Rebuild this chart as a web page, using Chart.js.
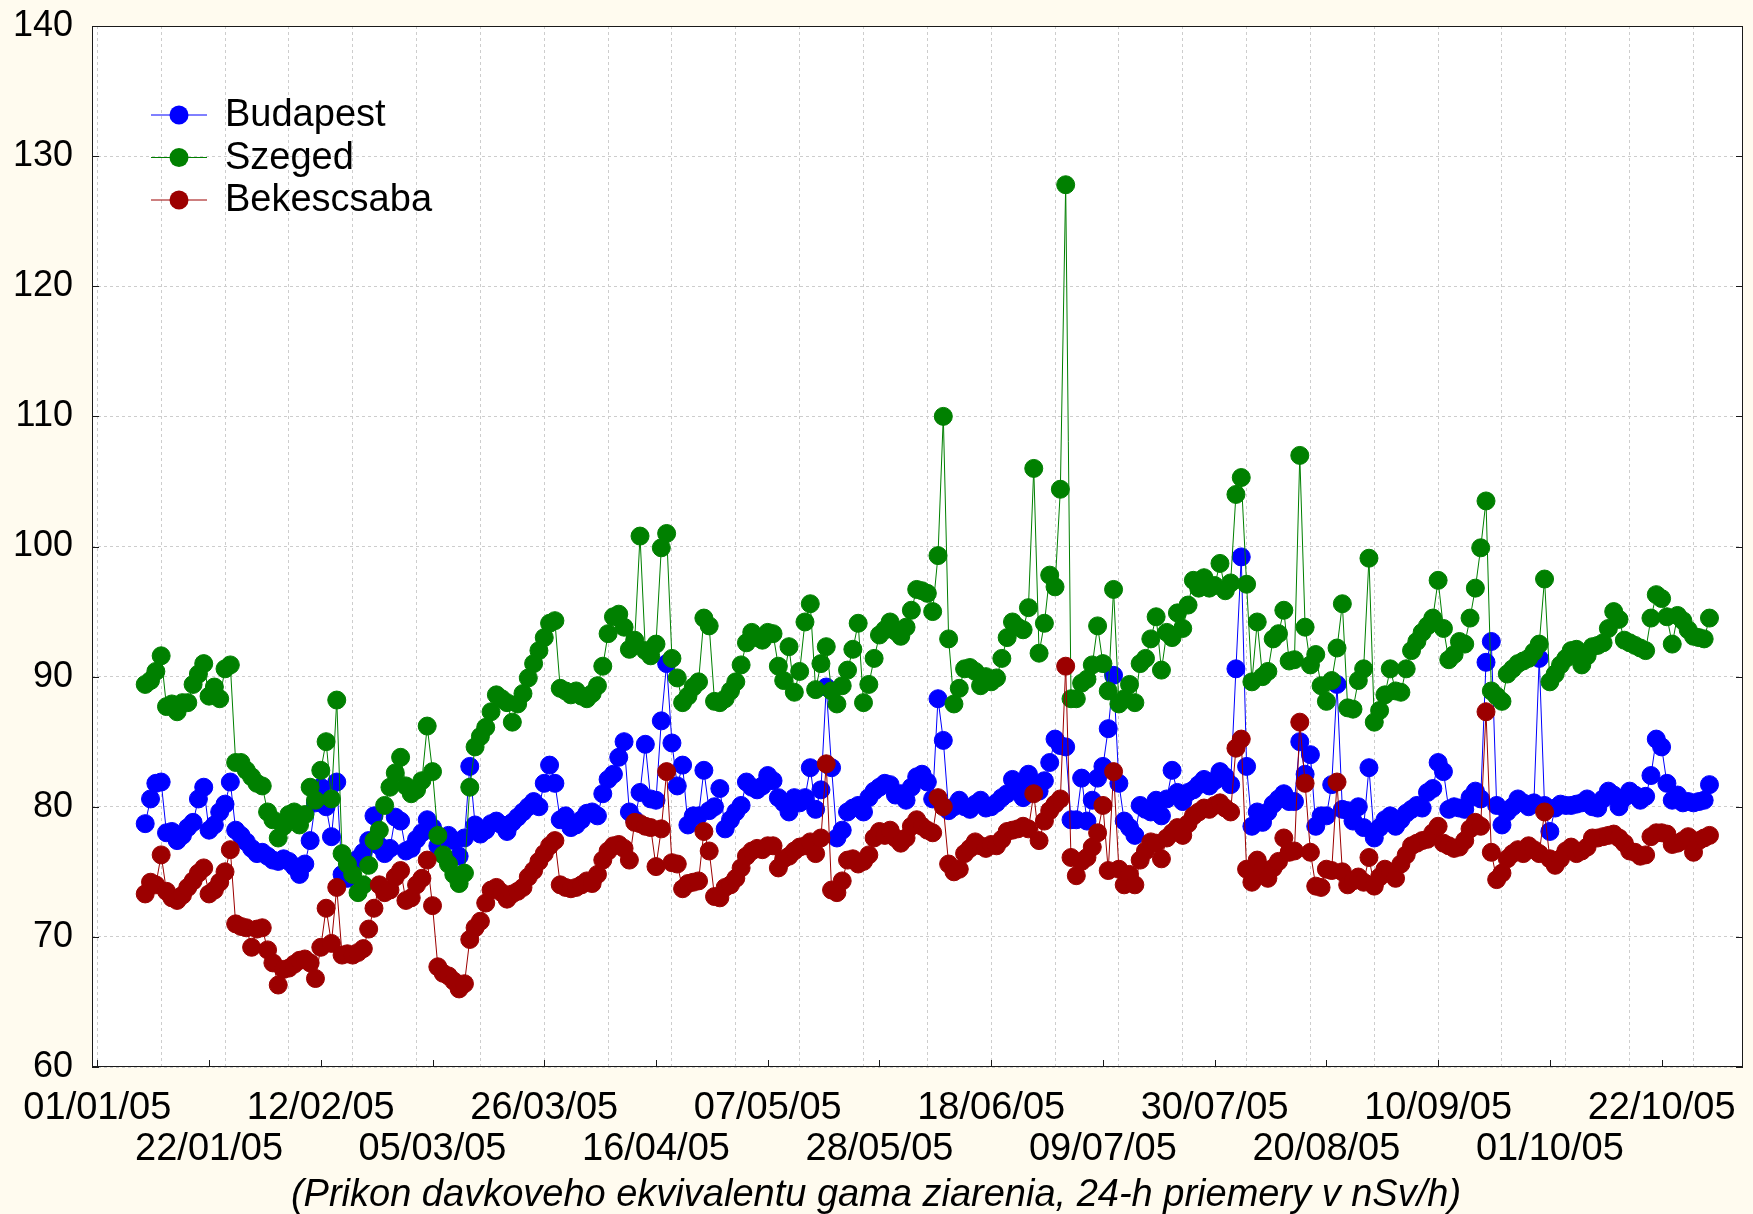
<!DOCTYPE html>
<html>
<head>
<meta charset="utf-8">
<title>Gamma dose rate 2005</title>
<script src="https://cdn.jsdelivr.net/npm/chart.js@4.4.1/dist/chart.umd.min.js"></script>
<style>
    html, body { margin: 0; padding: 0; background: #fffbef; }
    #wrap { width: 1753px; height: 1214px; }
</style>
</head>
<body>
<div id="wrap"><canvas id="doseChart" width="1753" height="1214"></canvas></div>
<script>
// day numbers are counted from 01/01/05 (day 0); first measured day:
var startDay = 9;

var budapest = [
    78.7, 80.6, 81.8, 81.9, 78.0, 78.1, 77.4, 77.8, 78.4, 78.8, 80.6, 81.5, 78.2, 78.6, 79.6, 80.2, 81.9, 78.2, 77.8, 77.3, 76.8, 76.4,
    76.5, 76.2, 75.9, 75.8, 76.0, 75.8, 75.4, 74.8, 75.6, 77.4, 80.3, 81.5, 80.0, 77.7, 81.9, 74.8, 74.5, 75.5, 76.0, 76.5, 77.4, 79.3, 77.0, 76.4, 76.8, 79.2,
    78.9, 76.6, 76.8, 77.5, 78.0, 79.0, 78.4, 77.0, 77.6, 77.8, 77.4, 76.2, 77.6, 83.1, 78.6, 77.9, 78.2, 78.7, 78.9, 78.6, 78.1, 78.8, 79.2, 79.6, 80.0, 80.4,
    80.0, 81.8, 83.2, 81.8, 79.0, 79.3, 78.4, 78.6, 79.0, 79.5, 79.6, 79.3, 81.0, 82.1, 82.5, 83.8, 85.0, 79.6, 79.0, 81.1, 84.8, 80.6, 80.5, 86.6, 91.0,
    84.9, 81.6, 83.2, 78.6, 79.3, 79.3, 82.8, 79.7, 80.0, 81.4, 78.3, 79.0, 79.6, 80.1, 81.9, 81.5, 81.3, 81.6, 82.4, 82.0, 80.7, 80.3, 79.6, 80.7, 80.3,
    80.7, 83.0, 79.8, 81.3, 89.2, 83.0, 77.6, 78.2, 79.6, 79.9, 80.1, 79.6, 80.7, 81.2, 81.5, 81.8, 81.7, 80.9, 81.0, 80.5, 81.5, 82.3, 82.5, 81.9, 80.6,
    88.3, 85.1, 79.7, 80.0, 80.5, 80.0, 79.8, 80.2, 80.5, 79.9, 80.0, 80.3, 80.7, 81.0, 82.1, 81.5, 80.7, 82.5, 81.7, 81.2, 82.0, 83.4, 85.2, 84.7, 84.6, 79.0,
    79.0, 82.2, 78.9, 80.5, 82.2, 83.1, 86.0, 90.1, 81.8, 78.9, 78.4, 77.8, 80.1, 79.8, 79.6, 80.5, 79.3, 80.6, 82.8, 81.1, 80.4, 81.1, 81.3, 81.7, 82.1,
    81.6, 82.0, 82.7, 82.3, 81.7, 90.6, 99.2, 83.1, 78.5, 79.6, 78.8, 79.6, 80.2, 80.6, 81.0, 80.4, 80.4, 85.0, 82.5, 84.0, 78.5, 79.3, 79.3, 81.7, 89.4, 79.8,
    79.7, 78.9, 80.0, 78.4, 83.0, 77.6, 78.4, 79.0, 79.3, 78.5, 79.0, 79.5, 79.8, 80.1, 79.9, 81.1, 81.4, 83.4, 82.7, 79.8, 80.0, 79.9, 79.8, 80.7, 81.2,
    80.6, 91.1, 92.7, 80.1, 78.6, 79.6, 80.0, 80.6, 80.3, 80.0, 80.3, 91.4, 80.1, 78.1, 79.9, 80.2, 80.1, 80.1, 80.2, 80.3, 80.6, 80.0, 79.9, 80.6, 81.2,
    80.9, 80.0, 80.7, 81.2, 80.9, 80.5, 80.8, 82.4, 85.2, 84.6, 81.8, 80.5, 80.9, 80.3, 80.4, 80.3, 80.4, 80.5, 81.7
];

var szeged = [
    89.4, 89.7, 90.4, 91.6, 87.7, 87.9, 87.3, 88.0, 88.0, 89.4, 90.2, 91.0, 88.5, 89.2, 88.3, 90.6, 90.9, 83.4, 83.4, 82.8, 82.3, 81.8,
    81.6, 79.6, 79.0, 77.6, 78.5, 79.4, 79.6, 78.6, 79.4, 81.5, 80.5, 82.8, 85.0, 80.6, 88.2, 76.4, 75.6, 74.8, 73.4, 74.0, 75.5, 77.4, 78.2, 80.1, 81.5, 82.6,
    83.8, 81.6, 81.0, 81.3, 82.0, 86.2, 82.7, 77.8, 76.3, 75.6, 74.8, 74.1, 74.9, 81.5, 84.6, 85.4, 86.1, 87.3, 88.6, 88.3, 88.0, 86.5, 87.9, 88.7, 89.9, 91.0,
    92.0, 93.0, 94.1, 94.3, 89.1, 88.9, 88.6, 88.9, 88.5, 88.3, 88.7, 89.3, 90.8, 93.3, 94.6, 94.8, 93.8, 92.1, 92.8, 100.8, 92.0, 91.6, 92.5, 99.9, 101.0,
    91.4, 89.9, 88.0, 88.5, 89.2, 89.6, 94.5, 93.9, 88.1, 88.0, 88.3, 88.9, 89.6, 90.9, 92.6, 93.4, 93.0, 92.8, 93.4, 93.3, 90.8, 89.7, 92.3, 88.8, 90.4,
    94.2, 95.6, 89.0, 91.0, 92.3, 88.9, 87.9, 89.3, 90.5, 92.1, 94.1, 88.0, 89.4, 91.4, 93.2, 93.6, 94.2, 93.5, 93.1, 93.8, 95.1, 96.7, 96.6, 96.4, 95.0, 99.3, 110.0,
    92.9, 87.9, 89.1, 90.6, 90.7, 90.4, 89.3, 90.0, 89.6, 89.9, 91.4, 93.0, 94.2, 93.8, 93.6, 95.3, 106.0, 91.8, 94.1, 97.8, 96.9, 104.4, 127.8, 88.3,
    88.3, 89.5, 89.8, 90.9, 93.9, 91.0, 88.9, 96.7, 87.9, 88.3, 89.4, 88.0, 91.0, 91.4, 92.9, 94.6, 90.5, 93.4, 93.0, 94.9, 93.7, 95.5, 97.4, 96.8, 97.6,
    96.8, 97.0, 98.7, 96.6, 97.2, 104.0, 105.3, 97.1, 89.6, 94.2, 90.0, 90.4, 92.9, 93.3, 95.1, 91.2, 91.3, 107.0, 93.8, 90.9, 91.7, 89.3, 88.1, 89.7, 92.2, 95.6,
    87.6, 87.5, 89.7, 90.6, 99.1, 86.5, 87.4, 88.6, 90.6, 88.9, 88.8, 90.6, 92.0, 92.7, 93.4, 93.9, 94.5, 97.4, 93.7, 91.3, 91.7, 92.7, 92.5, 94.5, 96.8,
    99.9, 103.5, 88.9, 88.5, 88.1, 90.2, 90.6, 91.0, 91.2, 91.4, 91.9, 92.5, 97.5, 89.6, 90.2, 90.9, 91.4, 92.0, 92.1, 90.9, 91.6, 92.3, 92.4, 92.6, 93.7,
    95.0, 94.4, 92.8, 92.6, 92.4, 92.2, 92.0, 94.5, 96.3, 96.0, 94.6, 92.5, 94.7, 94.3, 93.6, 93.1, 93.0, 92.9, 94.5
];

var bekescsaba = [
    73.3, 74.2, 74.0, 76.3, 73.5, 73.0, 72.8, 73.2, 73.8, 74.3, 74.9, 75.3, 73.3, 73.6, 74.2, 75.0, 76.7, 71.0, 70.8, 70.7, 69.2, 70.6,
    70.7, 69.0, 68.0, 66.3, 67.5, 67.6, 67.9, 68.2, 68.3, 68.0, 66.8, 69.2, 72.2, 69.5, 73.8, 68.6, 68.7, 68.6, 68.8, 69.1, 70.6, 72.2, 74.0, 73.4, 73.6, 74.6,
    75.1, 72.8, 73.0, 74.0, 74.5, 75.9, 72.4, 67.7, 67.2, 67.0, 66.6, 66.0, 66.4, 69.8, 70.7, 71.2, 72.6, 73.6, 73.8, 73.4, 72.9, 73.3, 73.5, 73.8, 74.6, 75.1,
    75.8, 76.4, 77.0, 77.4, 74.0, 73.8, 73.7, 73.8, 74.0, 74.3, 74.1, 74.8, 75.9, 76.6, 77.0, 77.1, 76.8, 75.9, 78.8, 78.7, 78.5, 78.4, 75.4, 78.3, 82.7,
    75.7, 75.6, 73.7, 74.1, 74.2, 74.3, 78.1, 76.6, 73.1, 73.0, 73.8, 74.0, 74.5, 75.3, 76.2, 76.6, 76.8, 76.7, 77.0, 77.0, 75.3, 76.0, 76.2, 76.6, 76.9,
    77.0, 77.3, 76.4, 77.6, 83.3, 73.6, 73.4, 74.3, 75.9, 76.0, 75.6, 75.8, 76.3, 77.6, 78.1, 77.8, 78.2, 77.6, 77.2, 77.6, 78.5, 79.0, 78.5, 78.2, 78.0,
    80.7, 80.0, 75.6, 75.0, 75.2, 76.4, 76.8, 77.3, 77.0, 76.8, 77.1, 77.0, 77.5, 78.1, 78.2, 78.3, 78.5, 78.3, 81.0, 77.4, 78.9, 79.7, 80.2, 80.6, 90.8, 76.1,
    74.7, 75.8, 76.1, 76.9, 78.0, 80.1, 75.1, 82.7, 75.2, 74.0, 74.8, 74.0, 75.9, 76.6, 77.3, 77.2, 76.0, 77.6, 78.0, 78.4, 77.8, 78.7, 79.3, 79.6, 79.9,
    79.8, 80.1, 80.3, 79.9, 79.6, 84.5, 85.2, 75.2, 74.2, 75.9, 75.2, 74.5, 75.3, 75.8, 77.6, 76.5, 76.6, 86.5, 81.8, 76.5, 73.9, 73.8, 75.2, 75.1, 81.9, 75.0,
    74.0, 74.3, 74.6, 74.2, 76.1, 73.9, 74.6, 75.2, 75.0, 74.5, 75.6, 76.3, 77.0, 77.2, 77.4, 77.5, 78.0, 78.5, 77.2, 77.0, 76.8, 76.9, 77.4, 78.3, 78.8,
    78.5, 87.3, 76.5, 74.4, 74.9, 76.0, 76.4, 76.7, 76.4, 77.0, 76.7, 76.4, 79.6, 76.0, 75.5, 76.0, 76.6, 76.9, 76.4, 76.6, 76.9, 77.6, 77.6, 77.7, 77.8,
    77.9, 77.6, 77.2, 76.6, 76.5, 76.2, 76.3, 77.7, 78.0, 78.0, 77.9, 77.1, 77.2, 77.4, 77.7, 76.5, 77.4, 77.6, 77.8
];

var xTickDays = [0, 21, 42, 63, 84, 105, 126, 147, 168, 189, 210, 231, 252, 273, 294];
var xTickLabels = ['01/01/05', '22/01/05', '12/02/05', '05/03/05', '26/03/05', '16/04/05', '07/05/05', '28/05/05',
                   '18/06/05', '09/07/05', '30/07/05', '20/08/05', '10/09/05', '01/10/05', '22/10/05'];
var xGridDays = [0, 12, 24, 36, 48, 60, 72, 84, 96, 108, 120, 132, 144, 156, 168, 180, 192, 204, 216, 228, 240, 252, 264, 276, 288, 300];
var seriesNames = ['Budapest', 'Szeged', 'Bekescsaba'];
var seriesColors = ['#0000ff', '#008000', '#9c0000'];
var xTitle = '(Prikon davkoveho ekvivalentu gama ziarenia, 24-h priemery v nSv/h)';

var xMin = -1, xMax = 309.3;
var fontFamily = "'Liberation Sans', Arial, sans-serif";
var gridColor = '#cdcdcd';

function toPoints(values) {
    return values.map(function (v, i) {
        return { x: startDay + i, y: v };
    });
}

function makeDataset(idx, values, order) {
    return {
        label: seriesNames[idx],
        data: toPoints(values),
        borderColor: seriesColors[idx],
        backgroundColor: seriesColors[idx],
        borderWidth: 1,
        pointRadius: 9,
        pointHoverRadius: 9,
        pointBorderWidth: 1,
        pointBorderColor: seriesColors[idx],
        pointBackgroundColor: seriesColors[idx],
        tension: 0,
        order: order
    };
}

// cream paper and white plot area
var paperPlugin = {
    id: 'paper',
    beforeDraw: function (chart) {
        var ctx = chart.ctx, a = chart.chartArea;
        ctx.save();
        ctx.fillStyle = '#fffbef';
        ctx.fillRect(0, 0, chart.width, chart.height);
        ctx.fillStyle = '#ffffff';
        ctx.fillRect(a.left, a.top, a.right - a.left, a.bottom - a.top);
        ctx.restore();
    }
};

// frame with inward tick marks and the legend inside the plot
var framePlugin = {
    id: 'frameLegend',
    afterDatasetsDraw: function (chart) {
        var ctx = chart.ctx, a = chart.chartArea;
        var xs = chart.scales.x, ys = chart.scales.y;
        ctx.save();
        ctx.strokeStyle = '#1a1a1a';
        ctx.lineWidth = 1;
        ctx.strokeRect(a.left + 0.5, a.top + 0.5, a.right - a.left - 1, a.bottom - a.top - 1);
        ctx.beginPath();
        for (var v = 60; v <= 140; v += 10) {
            var py = Math.round(ys.getPixelForValue(v)) + 0.5;
            ctx.moveTo(a.left, py); ctx.lineTo(a.left + 7, py);
            ctx.moveTo(a.right, py); ctx.lineTo(a.right - 7, py);
        }
        xTickDays.forEach(function (d) {
            var px = Math.round(xs.getPixelForValue(d)) + 0.5;
            ctx.moveTo(px, a.bottom); ctx.lineTo(px, a.bottom - 7);
        });
        ctx.stroke();

        // legend
        var lx = a.left + 59, ly = a.top + 89;
        ctx.font = '38px ' + fontFamily;
        ctx.textBaseline = 'middle';
        ctx.textAlign = 'left';
        seriesNames.forEach(function (name, i) {
            var y = ly + i * 42.5;
            ctx.strokeStyle = seriesColors[i];
            ctx.fillStyle = seriesColors[i];
            ctx.beginPath();
            ctx.moveTo(lx, y); ctx.lineTo(lx + 56, y);
            ctx.stroke();
            ctx.beginPath();
            ctx.arc(lx + 28, y, 9.5, 0, Math.PI * 2);
            ctx.fill();
            ctx.fillStyle = '#000';
            ctx.fillText(name, lx + 74, y + 1);
        });
        ctx.restore();
    }
};

var doseChart = new Chart(document.getElementById('doseChart'), {
    type: 'line',
    data: {
        datasets: [
            makeDataset(0, budapest, 3),
            makeDataset(1, szeged, 2),
            makeDataset(2, bekescsaba, 1)
        ]
    },
    options: {
        responsive: false,
        animation: false,
        layout: {
            padding: { left: 0, right: 1, top: 26, bottom: 0 }
        },
        scales: {
            x: {
                type: 'linear',
                position: 'bottom',
                min: xMin,
                max: xMax,
                afterBuildTicks: function (scale) {
                    scale.ticks = xTickDays.map(function (d) { return { value: d }; });
                },
                afterFit: function (scale) {
                    scale.height = 109;
                    scale.paddingLeft = 0;
                    scale.paddingRight = 0;
                },
                grid: { display: false, drawTicks: false },
                border: { display: false },
                ticks: {
                    autoSkip: false,
                    maxRotation: 0,
                    padding: 21,
                    color: '#000',
                    font: { family: fontFamily, size: 38, lineHeight: 1.08 },
                    callback: function (value, index) {
                        var lbl = xTickLabels[index];
                        return index % 2 === 0 ? [lbl, ''] : ['', lbl];
                    }
                }
            },
            xg: {
                type: 'linear',
                position: 'bottom',
                min: xMin,
                max: xMax,
                afterBuildTicks: function (scale) {
                    scale.ticks = xGridDays.map(function (d) { return { value: d }; });
                },
                afterFit: function (scale) {
                    scale.height = 0;
                    scale.paddingLeft = 0;
                    scale.paddingRight = 0;
                },
                ticks: { display: false },
                grid: { color: gridColor, lineWidth: 1, drawTicks: false },
                border: { display: false, dash: [3, 3] }
            },
            y: {
                min: 60,
                max: 140,
                afterFit: function (scale) {
                    scale.width = 92;
                    scale.paddingTop = 0;
                    scale.paddingBottom = 0;
                },
                grid: { color: gridColor, lineWidth: 1, drawTicks: false },
                border: { display: false, dash: [3, 3] },
                ticks: {
                    stepSize: 10,
                    padding: 19,
                    color: '#000',
                    font: { family: fontFamily, size: 36 }
                }
            }
        },
        plugins: {
            legend: { display: false },
            tooltip: { enabled: false },
            title: {
                display: true,
                position: 'bottom',
                text: xTitle,
                color: '#000',
                padding: { top: 0, bottom: 0 },
                font: { family: fontFamily, size: 38, style: 'italic', weight: 'normal', lineHeight: 1.0 }
            }
        }
    },
    plugins: [paperPlugin, framePlugin]
});
</script>
</body>
</html>
